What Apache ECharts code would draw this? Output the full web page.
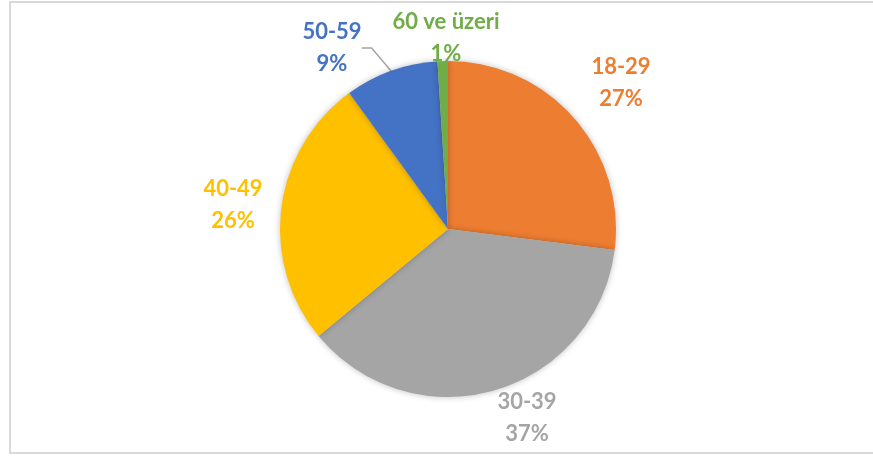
<!DOCTYPE html>
<html>
<head>
<meta charset="utf-8">
<script src="https://cdn.jsdelivr.net/npm/echarts@6/dist/echarts.min.js"></script>
<style>
  html, body { margin: 0; padding: 0; background: #fff; }
  #chart { width: 873px; height: 457px; }
</style>
</head>
<body>
<div id="chart"></div>
<script>
const categories = ['18-29', '30-39', '40-49', '50-59', '60 ve üzeri']
const shares = [27, 37, 26, 9, 1]
const colors = ['#ED7D31', '#A5A5A5', '#FFC000', '#4472C4', '#70AD47']

// where Excel put each label (centre of the two-line block)
const labelSpots = [[621, 83], [527, 418], [233, 205], [332, 48], [446, 38]]

const chart = echarts.init(document.getElementById('chart'))

chart.setOption({
  animation: false,
  graphic: [{
    type: 'rect',
    shape: { x: 10, y: 2, width: 880, height: 451 },
    style: { fill: 'none', stroke: '#D9D9D9', lineWidth: 2 },
    silent: true
  }],
  series: [{
    type: 'pie',
    center: [448, 229],
    radius: 168,
    startAngle: 90,
    clockwise: true,
    avoidLabelOverlap: false,
    itemStyle: {
      shadowBlur: 6,
      shadowColor: 'rgba(0,0,0,0.25)'
    },
    label: {
      show: true,
      formatter: '{b}\n{d}%',
      fontFamily: 'Lato',
      fontWeight: 'bold',
      fontSize: 22,
      lineHeight: 32,
      align: 'center'
    },
    labelLine: { show: false },
    labelLayout: function (params) {
      const p = labelSpots[params.dataIndex]
      return { x: p[0], y: p[1], align: 'center', verticalAlign: 'middle' }
    },
    data: categories.map(function (name, i) {
      const item = {
        name: name,
        value: shares[i],
        itemStyle: { color: colors[i] },
        label: { color: colors[i] }
      }
      if (i === 3) {
        item.labelLine = { show: true, length: 12, length2: 10, lineStyle: { color: '#A5A5A5', width: 1.5 } }
      }
      return item
    })
  }]
})
</script>
</body>
</html>
